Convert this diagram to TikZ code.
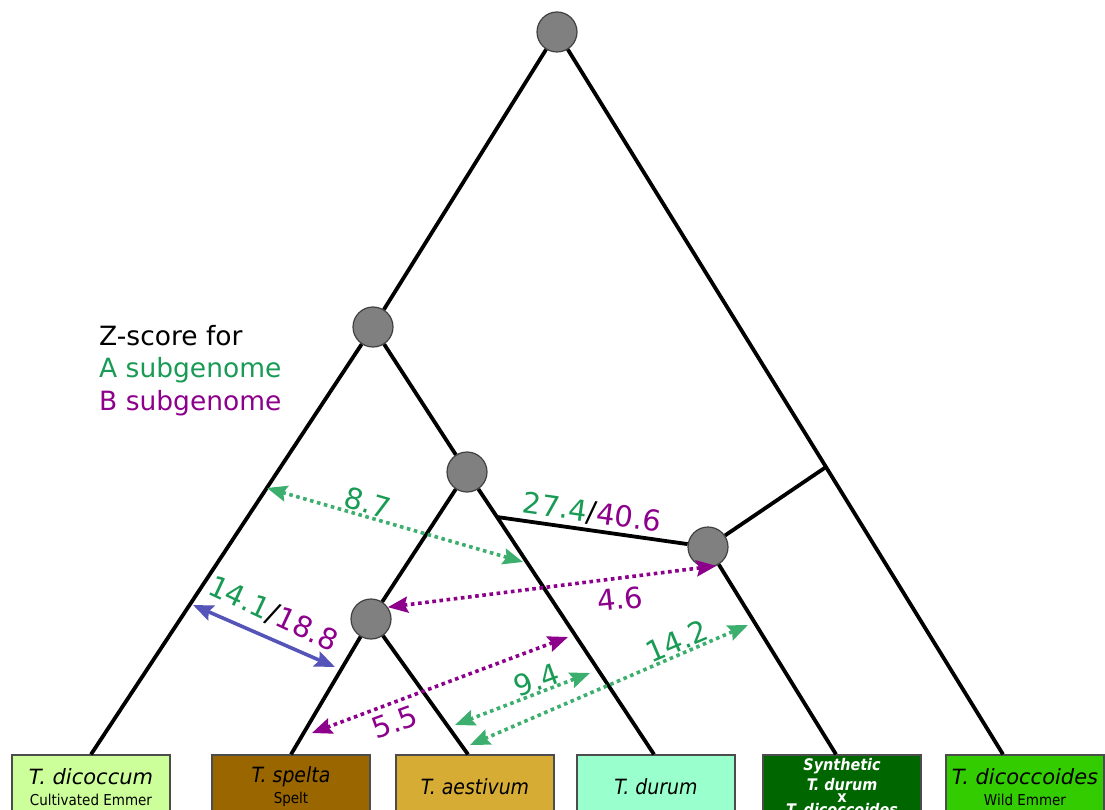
\documentclass[tikz,border=0pt]{standalone}
\usepackage{fontspec}
\setmainfont{DejaVu Sans}
\newfontfamily\condsf[ItalicFont={DejaVu Sans Condensed Oblique},BoldFont={DejaVu Sans Condensed Bold},BoldItalicFont={DejaVu Sans Condensed Bold Oblique}]{DejaVu Sans Condensed}
\usetikzlibrary{arrows.meta}
\definecolor{zA}{RGB}{25,155,85}
\definecolor{zB}{RGB}{140,0,140}
\definecolor{arrA}{RGB}{60,175,110}
\definecolor{arrAB}{RGB}{85,85,185}
\definecolor{splitGray}{RGB}{128,128,128}
\definecolor{boxDicoccum}{RGB}{204,255,153}
\definecolor{boxSpelta}{RGB}{153,102,0}
\definecolor{boxAestivum}{RGB}{214,172,52}
\definecolor{boxDurum}{RGB}{153,255,204}
\definecolor{boxSynth}{RGB}{0,102,0}
\definecolor{boxDicoccoides}{RGB}{51,204,0}
\newcommand{\zab}[2]{\textcolor{zA}{#1}/\textcolor{zB}{#2}}
\newcommand{\taxon}[1]{{\fontsize{21}{21}\selectfont\itshape #1}}
\newcommand{\ctaxon}[1]{{\condsf\fontsize{21}{21}\selectfont\itshape #1}}
\newcommand{\common}[1]{{\condsf\fontsize{15}{21}\selectfont #1}}

\begin{document}
\begin{tikzpicture}[x=1pt,y=-1pt,
  split/.style={circle,fill=splitGray,draw=black!75,line width=1.2pt,minimum size=40pt,inner sep=0pt},
  branch/.style={line width=3.8pt},
  leaf/.style={draw=black!70,line width=1.2pt,minimum width=158pt,minimum height=64pt,inner sep=0pt,align=center,font=\fontsize{15}{21}\selectfont},
  zline/.style={line width=3.6pt,dash pattern=on 3.6pt off 3.6pt,>={Stealth[length=20pt,width=16pt,inset=3pt]},<->},
  zval/.style={font=\fontsize{29}{29}\selectfont,inner sep=0pt}]
  \useasboundingbox (0,0) rectangle (1105,810);
  \clip (0,0) rectangle (1105,810);
  \node[leaf,fill=boxDicoccum] (dicoccum) at (91,787) {\taxon{T. dicoccum}\\\common{Cultivated Emmer}};
  \node[leaf,fill=boxSpelta] (spelta) at (291,787) {\ctaxon{T. spelta}\\\common{Spelt}};
  \node[leaf,fill=boxAestivum] (aestivum) at (475,787) {\ctaxon{T. aestivum}};
  \node[leaf,fill=boxDurum] (durum) at (656,787) {\ctaxon{T. durum}};
  \node[leaf,fill=boxSynth,text=white,font=\condsf\bfseries\itshape\fontsize{16}{15}\selectfont] (synth) at (842,787)
    {Synthetic\\[3pt]T. durum\\[-3pt]{\upshape x}\\[-2pt]T. dicoccoides};
  \node[leaf,fill=boxDicoccoides] (dicoccoides) at (1025,787) {\taxon{T. dicoccoides}\\\common{Wild Emmer}};
  \node[split] (root) at (557,32) {};
  \node[split] (nA) at (373,327) {};
  \node[split] (nB) at (467,472) {};
  \node[split] (nC) at (371,619) {};
  \node[split] (nD) at (708,547) {};
  \coordinate (jn) at (826,467);
  \coordinate (bk) at (497,517);
  \draw[branch] (root) -- (nA) -- (dicoccum.north);
  \draw[branch] (root) -- (jn) -- ([xshift=-22pt]dicoccoides.north);
  \draw[branch] (nA) -- (nB) -- (bk) -- ([xshift=-2pt]durum.north);
  \draw[branch] (bk) -- (nD);
  \draw[branch] (jn) -- (nD) -- ([xshift=-6pt]synth.north);
  \draw[branch] (nB) -- (nC) -- (spelta.north);
  \draw[branch] (nC) -- ([xshift=-7pt]aestivum.north);
  \node[anchor=base west,align=left,inner sep=0pt,font=\fontsize{26.5}{32.5}\selectfont] (legend) at (99,410)
    {Z-score for\\\textcolor{zA}{A subgenome}\\\textcolor{zB}{B subgenome}};
  \coordinate (p87a) at (267,488);
  \coordinate (p87b) at (523,562);
  \coordinate (p55a) at (312,733);
  \coordinate (p55b) at (568,637);
  \coordinate (p94a) at (455,725);
  \coordinate (p94b) at (590,673);
  \coordinate (p142a) at (470,745);
  \coordinate (p142b) at (748,625);
  \coordinate (p141a) at (193,605);
  \coordinate (p141b) at (335,667);
  \draw[zline,arrA] (p87a) -- (p87b);
  \draw[zline,zB] (nC.35) -- (nD.-66);
  \draw[zline,zB] (p55a) -- (p55b);
  \draw[zline,arrA] (p94a) -- (p94b);
  \draw[zline,arrA] (p142a) -- (p142b);
  \draw[line width=3.6pt,arrAB,>={Stealth[length=20pt,width=16pt,inset=3pt]},<->] (p141a) -- (p141b);
  \node[zval,zA,rotate=-16] (l87) at (368,503) {8.7};
  \node[zval,rotate=-8] (l274) at (592,513) {\zab{27.4}{40.6}};
  \node[zval,zB,rotate=6] (l46) at (620,599) {4.6};
  \node[zval,zA,rotate=23] (l142) at (677,641) {14.2};
  \node[zval,zA,rotate=20] (l94) at (537,680) {9.4};
  \node[zval,zB,rotate=20] (l55) at (395,722) {5.5};
  \node[zval,rotate=-25] (l141) at (273,614) {\zab{14.1}{18.8}};
\end{tikzpicture}
\end{document}
